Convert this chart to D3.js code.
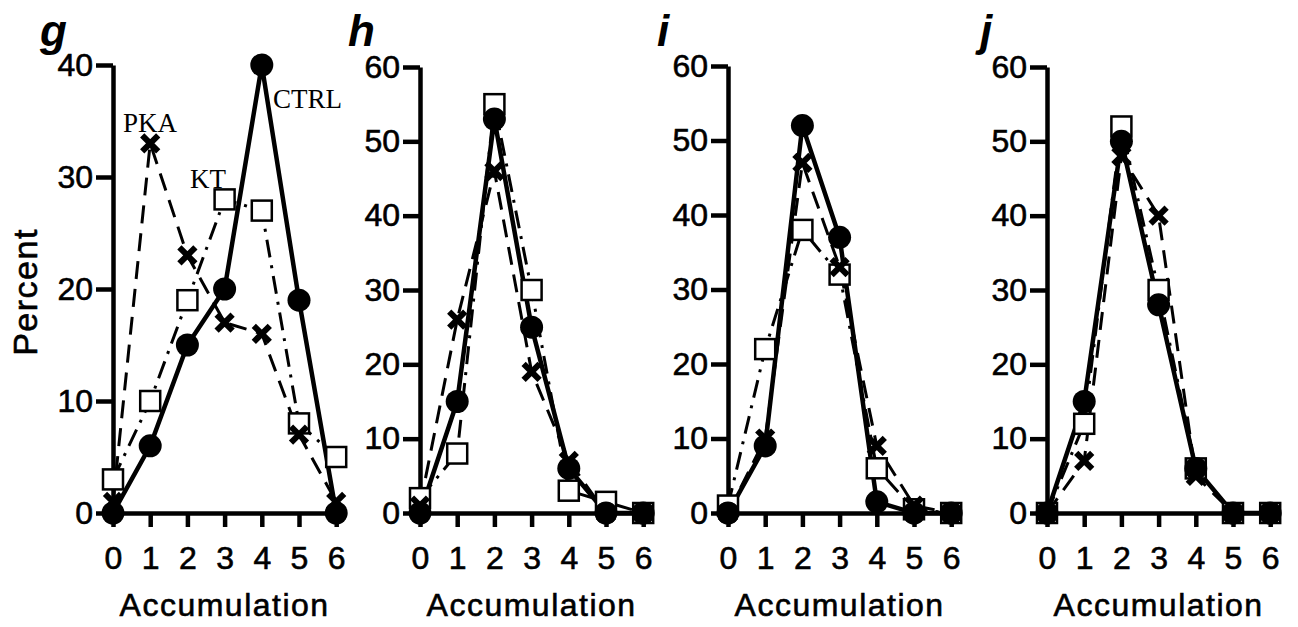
<!DOCTYPE html>
<html>
<head>
<meta charset="utf-8">
<script src="https://cdn.jsdelivr.net/npm/d3@7"></script>
<style>
  body { margin: 0; background: #fff; }
  svg { display: block; }
  .heavy { stroke: #000; stroke-width: 0.6px; }
</style>
</head>
<body>
<svg id="chart" width="1298" height="627"></svg>
<script>
// accumulation categories (x)
var accumulation = [0, 1, 2, 3, 4, 5, 6];

var panelLetters = ['g', 'h', 'i', 'j'];
var yMax = [40, 60, 60, 60];
var yTicks = [[0, 10, 20, 30, 40], [0, 10, 20, 30, 40, 50, 60], [0, 10, 20, 30, 40, 50, 60], [0, 10, 20, 30, 40, 50, 60]];

// percent per accumulation, one array per panel
var ctrlG = [0, 6, 15, 20, 40, 19, 0];
var ktG   = [3, 10, 19, 28, 27, 8, 5];
var pkaG  = [1, 33, 23, 17, 16, 7, 1];

var ctrlH = [0, 15, 53, 25, 6, 0, 0];
var ktH   = [2, 8, 55, 30, 3, 1.5, 0];
var pkaH  = [1, 26, 46, 19, 7, 0, 0];

var ctrlI = [0, 9, 52, 37, 1.5, 0, 0];
var ktI   = [1, 22, 38, 32, 6, 0.5, 0];
var pkaI  = [0, 10, 47, 33, 9, 1, 0];

var ctrlJ = [0, 15, 50, 28, 6, 0, 0];
var ktJ   = [0, 12, 52, 30, 6, 0, 0];
var pkaJ  = [0, 7, 48, 40, 5, 0, 0];

var ctrlAll = [ctrlG, ctrlH, ctrlI, ctrlJ];
var ktAll = [ktG, ktH, ktI, ktJ];
var pkaAll = [pkaG, pkaH, pkaI, pkaJ];

// layout
var axisLeftX = [113, 420, 728, 1047];
var letterX = [40, 348, 657, 980];
var xStep = 37.2;
var yBottom = 513;
var yTop = [65, 67, 66, 67];

var svg = d3.select('#chart');
var sans = '"Liberation Sans", Arial, sans-serif';

panelLetters.forEach(function(letter, p) {
    var x = d3.scaleLinear().domain([0, 6]).range([axisLeftX[p], axisLeftX[p] + 6 * xStep]);
    var y = d3.scaleLinear().domain([0, yMax[p]]).range([yBottom, yTop[p]]);
    var g = svg.append('g');

    // axes
    var ya = g.append('g').attr('transform', 'translate(' + axisLeftX[p] + ',0)')
        .call(d3.axisLeft(y).tickValues(yTicks[p]).tickSize(17).tickSizeOuter(0).tickPadding(3));
    var xa = g.append('g').attr('transform', 'translate(0,' + yBottom + ')')
        .call(d3.axisBottom(x).tickValues(accumulation).tickFormat(d3.format('d'))
            .tickSize(14).tickSizeOuter(0).tickPadding(19));
    [ya, xa].forEach(function(a) {
        a.attr('font-family', null).attr('font-size', null);
        a.select('.domain').attr('stroke', '#000').attr('stroke-width', 4.5);
        a.selectAll('.tick line').attr('stroke', '#000').attr('stroke-width', 4.5);
        a.selectAll('.tick text').attr('fill', '#000').classed('heavy', true)
            .style('font-family', sans).style('font-size', '32px');
    });

    // x label
    g.append('text').classed('heavy', true)
        .attr('x', axisLeftX[p] + 3 * xStep).attr('y', 616)
        .attr('text-anchor', 'middle')
        .style('font-family', sans).style('font-size', '32px')
        .style('letter-spacing', '1.5px')
        .text('Accumulation');

    // panel letter
    g.append('text')
        .attr('x', letterX[p]).attr('y', 46)
        .style('font-family', sans).style('font-size', '44px')
        .style('font-weight', 'bold').style('font-style', 'italic')
        .text(letter);

    var line = d3.line().x(function(d, i) { return x(accumulation[i]); }).y(function(d) { return y(d); });

    g.append('path').datum(ktAll[p]).attr('d', line)
        .attr('fill', 'none').attr('stroke', '#000').attr('stroke-width', 3)
        .attr('stroke-dasharray', '18,8,3,8');
    g.append('path').datum(pkaAll[p]).attr('d', line)
        .attr('fill', 'none').attr('stroke', '#000').attr('stroke-width', 3)
        .attr('stroke-dasharray', '18,10');
    g.append('path').datum(ctrlAll[p]).attr('d', line)
        .attr('fill', 'none').attr('stroke', '#000').attr('stroke-width', 4.5);

    // open squares (KT)
    g.selectAll('rect.kt').data(ktAll[p]).enter().append('rect')
        .attr('class', 'kt')
        .attr('x', function(d, i) { return x(accumulation[i]) - 10; })
        .attr('y', function(d) { return y(d) - 10; })
        .attr('width', 20).attr('height', 20)
        .attr('fill', '#fff').attr('stroke', '#000').attr('stroke-width', 2.5);

    // crosses (PKA)
    g.selectAll('path.pka').data(pkaAll[p]).enter().append('path')
        .attr('class', 'pka')
        .attr('d', function(d, i) {
            var cx = x(accumulation[i]), cy = y(d), s = 8;
            return 'M' + (cx - s) + ',' + (cy - s) + 'L' + (cx + s) + ',' + (cy + s) +
                   'M' + (cx - s) + ',' + (cy + s) + 'L' + (cx + s) + ',' + (cy - s);
        })
        .attr('stroke', '#000').attr('stroke-width', 6).attr('fill', 'none');

    // filled circles (CTRL)
    g.selectAll('circle.ctrl').data(ctrlAll[p]).enter().append('circle')
        .attr('class', 'ctrl')
        .attr('cx', function(d, i) { return x(accumulation[i]); })
        .attr('cy', function(d) { return y(d); })
        .attr('r', 11.5).attr('fill', '#000');

    if (p === 0) {
        g.append('text').classed('heavy', true)
            .attr('transform', 'translate(37,292) rotate(-90)')
            .attr('text-anchor', 'middle')
            .style('font-family', sans).style('font-size', '34px')
            .style('letter-spacing', '1.5px')
            .text('Percent');
        var serif = '"Liberation Serif", "Times New Roman", serif';
        [['PKA', 123, 132], ['KT', 190, 188], ['CTRL', 273, 108]].forEach(function(t) {
            g.append('text').attr('x', t[1]).attr('y', t[2])
                .style('font-family', serif).style('font-size', '27px')
                .text(t[0]);
        });
    }
});
</script>
</body>
</html>
